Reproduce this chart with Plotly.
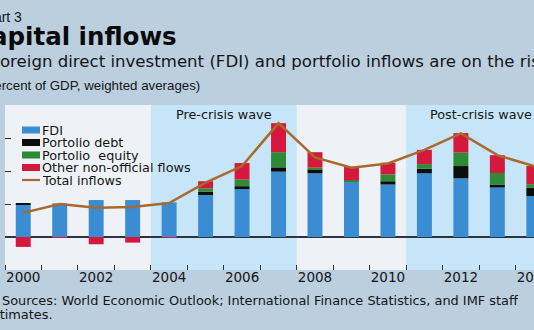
import plotly.graph_objects as go

# ---- data (percent of GDP, weighted averages) ----
years = list(range(2000, 2015))
year_labels = ["2000", "2002", "2004", "2006", "2008", "2010", "2012", "2014"]
fdi = [0.99, 1.02, 1.12, 1.12, 1.05, 1.27, 1.45, 1.98, 1.93, 1.67, 1.59, 1.93, 1.78, 1.50, 1.24]
portfolio_debt = [0.03, 0.0, 0.0, 0.0, 0.0, 0.10, 0.09, 0.13, 0.11, 0.0, 0.10, 0.14, 0.37, 0.09, 0.25]
portfolio_equity = [0.0, 0.0, 0.0, 0.0, 0.0, 0.10, 0.20, 0.46, 0.06, 0.05, 0.21, 0.14, 0.41, 0.35, 0.11]
other_flows = [-0.30, -0.03, -0.22, -0.17, -0.03, 0.22, 0.50, 0.88, 0.47, 0.41, 0.35, 0.43, 0.59, 0.54, 0.55]
total_inflows = [0.73, 1.00, 0.89, 0.91, 1.03, 1.65, 2.15, 3.45, 2.41, 2.10, 2.23, 2.64, 3.14, 2.48, 2.15]

series_names = ["FDI", "Portolio debt", "Portolio  equity", "Other non-official flows", "Total inflows"]
waves = [("Pre-crisis wave", 2003.5, 2007.5), ("Post-crisis wave", 2010.5, 2014.5)]

# ---- styling ----
C_FDI = "#3a8dd2"
C_DEBT = "#0d0d0d"
C_EQ = "#2f8a36"
C_OTHER = "#d5193d"
C_TOTAL = "#a9692c"
BG_OUT = "#bccfdf"
BG_PLOT = "#eef2f7"
BG_WAVE = "#c6e5f8"
TXT = "#151515"
FONT = "DejaVu Sans"

W, H = 534, 330
ML, MR, MT, MB = 5, 0, 105, 60
X_RANGE = [1999.5, 2014.005]
Y_RANGE = [-1, 4]
BAR_W = 0.41


def px_x(px):
    return (px - ML) / (W - ML - MR)


def px_y(py):
    return (H - MB - py) / (H - MT - MB)


fig = go.Figure()

bar_series = [
    (series_names[0], fdi, C_FDI),
    (series_names[1], portfolio_debt, C_DEBT),
    (series_names[2], portfolio_equity, C_EQ),
    (series_names[3], other_flows, C_OTHER),
]
for name, vals, col in bar_series:
    fig.add_trace(go.Bar(x=years, y=vals, name=name, width=BAR_W,
                         marker=dict(color=col, line=dict(width=0)),
                         showlegend=False))

fig.add_trace(go.Scatter(x=years, y=total_inflows, name=series_names[4],
                         mode="lines", line=dict(color=C_TOTAL, width=2.5),
                         showlegend=False))

shapes = []
annotations = []

# shaded waves
for label, x0, x1 in waves:
    shapes.append(dict(type="rect", xref="x", yref="paper", x0=x0, x1=x1,
                       y0=0, y1=1, fillcolor=BG_WAVE, line=dict(width=0),
                       layer="below"))
annotations.append(dict(text=waves[0][0], xref="x", yref="paper",
                        x=(waves[0][1] + waves[0][2]) / 2, y=px_y(115),
                        xanchor="center", yanchor="middle", showarrow=False,
                        font=dict(family=FONT, size=12.8, color=TXT)))
annotations.append(dict(text=waves[1][0], xref="x", yref="paper",
                        x=(waves[1][1] + waves[1][2]) / 2 + 0.05, y=px_y(115),
                        xanchor="center", yanchor="middle", showarrow=False,
                        font=dict(family=FONT, size=12.8, color=TXT)))

# legend block
legend_colors = [C_FDI, C_DEBT, C_EQ, C_OTHER, C_TOTAL]
for i, (name, col) in enumerate(zip(series_names, legend_colors)):
    yc = 130 + 12.5 * i
    if i < 4:
        shapes.append(dict(type="rect", xref="paper", yref="paper",
                           x0=px_x(22), x1=px_x(40), y0=px_y(yc + 3.5), y1=px_y(yc - 3.5),
                           fillcolor=col, line=dict(width=0)))
    else:
        shapes.append(dict(type="line", xref="paper", yref="paper",
                           x0=px_x(22), x1=px_x(40), y0=px_y(yc), y1=px_y(yc),
                           line=dict(color=col, width=2.2)))
    annotations.append(dict(text=name, xref="paper", yref="paper",
                            x=px_x(40), y=px_y(yc), xanchor="left", yanchor="middle",
                            showarrow=False, font=dict(family=FONT, size=12.8, color=TXT)))

# headings
headings = [
    ("Chart 3", -26, 17, dict(family="Liberation Sans", size=14, color=TXT)),
    ("<b>Capital inflows</b>", -29, 36, dict(family=FONT, size=24.5, color="#0a0a0a")),
    ("Foreign direct investment (FDI) and portfolio inflows are on the rise.", -11, 61,
     dict(family=FONT, size=16.6, color=TXT)),
    ("(Percent of GDP, weighted averages)", -21, 86, dict(family="Liberation Sans", size=13.3, color=TXT)),
    ("Sources: World Economic Outlook; International Finance Statistics, and IMF staff", 0, 300,
     dict(family=FONT, size=12.9, color=TXT)),
    ("estimates.", -17, 314, dict(family=FONT, size=12.9, color=TXT)),
]
for text, x, y, f in headings:
    annotations.append(dict(text=text, xref="paper", yref="paper", x=px_x(x), y=px_y(y),
                            xanchor="left", yanchor="middle", showarrow=False, font=f))

fig.update_layout(
    width=W, height=H,
    margin=dict(l=ML, r=MR, t=MT, b=MB, pad=0, autoexpand=False),
    paper_bgcolor=BG_OUT, plot_bgcolor=BG_PLOT,
    barmode="relative",
    showlegend=False,
    shapes=shapes,
    annotations=annotations,
    xaxis=dict(range=X_RANGE, tickmode="array", tickvals=[int(s) for s in year_labels],
               ticktext=year_labels, ticks="", showgrid=False, zeroline=False,
               showline=False, tickfont=dict(family=FONT, size=13.5, color=TXT),
               ticklabeloverflow="allow", ticklabelstandoff=-3, automargin=False,
               minor=dict(tickmode="array", tickvals=[y - 0.5 for y in years],
                          ticks="inside", ticklen=5, tickwidth=1.3, tickcolor="#333",
                          showgrid=False)),
    yaxis=dict(range=Y_RANGE, tickmode="array", tickvals=[-1, 0, 1, 2, 3, 4],
               showticklabels=False, ticks="inside", ticklen=6, tickwidth=1.3,
               tickcolor="#333", showgrid=False, zeroline=True, automargin=False,
               zerolinecolor="#2b3440", zerolinewidth=1.5, showline=False,
               layer="above traces"),
)

fig.write_html("out.html")
